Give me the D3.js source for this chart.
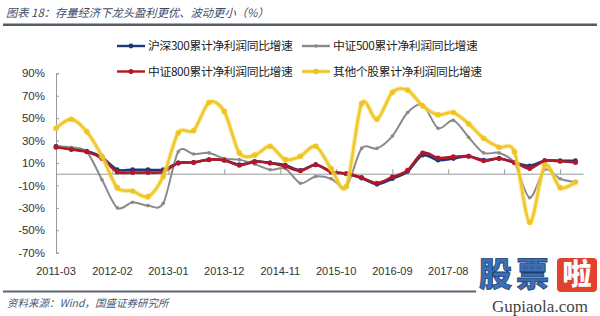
<!DOCTYPE html>
<html><head><meta charset="utf-8">
<script src="https://cdn.jsdelivr.net/npm/d3@7/dist/d3.min.js"></script>
<style>
html,body{margin:0;padding:0;background:#fff;}
svg{display:block;}
</style></head>
<body>
<svg id="chart" width="600" height="316"></svg>
<script>
// ---- data ----
const periods = ["2011-03","2011-06","2011-09","2011-12","2012-03","2012-06","2012-09","2012-12",
  "2013-03","2013-06","2013-09","2013-12","2014-03","2014-06","2014-09","2014-12",
  "2015-03","2015-06","2015-09","2015-12","2016-03","2016-06","2016-09","2016-12",
  "2017-03","2017-06","2017-09","2017-12","2018-03","2018-06","2018-09","2018-12",
  "2019-03","2019-06","2019-09"];
const hs300 = [25,22.5,20.5,15,4,4,4,4,10,10.5,13,12.5,8.5,11.5,10,8,3.5,8.5,2.5,0.5,
  -3.5,-9,-4,2.5,17,12.5,14,16,12.5,14,10.5,7.5,12,12,12];
const zz500 = [25,24,20,-5,-30,-25,-28,-26,20,18,19,14,13,9,4,5,-8,-2,-4,-11,
  23,23,34,55,62,41,48,33,19,19,10,-21,4,-4,-7];
const zz800 = [24,22,20,14,2,1.5,1.5,2,10,10.5,13,12.5,8,11,10,7,3,8.5,2,0.5,
  -3,-8,-2.5,3.5,19,14.5,15.5,16,12,14,10.5,5,12,11.5,10.5];
const others = [41,49,38,16,-12,-15,-20,-2,37,39,64,56,19,17,25,13,16,25,5,-11,
  63,49,73,75,61,53,55,45,32,24,20,-43,8,-12,-7];
const seriesNames = ["沪深300累计净利润同比增速","中证500累计净利润同比增速","中证800累计净利润同比增速","其他个股累计净利润同比增速"];
// tick positions (every 11 months); the last two labels are hidden under the watermark in the reference
const xTickDates = ["2011-03","2012-02","2013-01","2013-12","2014-11","2015-10","2016-09","2017-08","2018-07","2019-06"];
const xTickLabels = ["2011-03","2012-02","2013-01","2013-12","2014-11","2015-10","2016-09","2017-08"];
const yTicks = [90,70,50,30,10,-10,-30,-50,-70];
const titleText = "图表 18：存量经济下龙头盈利更优、波动更小（%）";
const sourceText = "资料来源：Wind，国盛证券研究所";

// ---- layout ----
const svg = d3.select("#chart");
const parse = d3.utcParse("%Y-%m");
const plot = {left:56, right:575.5, top:73.3, bottom:252.7};
const x = d3.scaleUtc().domain([parse(periods[0]), parse(periods[periods.length-1])]).range([plot.left, plot.right]);
const y = d3.scaleLinear().domain([-70,90]).range([plot.bottom, plot.top]);

// title
svg.append("text").attr("x",6).attr("y",17).text(titleText)
  .attr("font-family","'Noto Sans CJK SC', sans-serif").attr("font-size",11.3)
  .attr("font-style","italic").attr("fill","#3d4d6b");
svg.append("line").attr("x1",3).attr("x2",597).attr("y1",24.8).attr("y2",24.8)
  .attr("stroke","#545b66").attr("stroke-width",2.6);

// y axis
const yAxis = svg.append("g").attr("transform",`translate(${plot.left},0)`)
  .call(d3.axisLeft(y).tickValues(yTicks).tickSize(-3).tickPadding(11).tickFormat(d=>d+"%"));
yAxis.select(".domain").attr("stroke","#9a9a9a");
yAxis.selectAll(".tick line").attr("stroke","#9a9a9a");
yAxis.selectAll("text").attr("font-family","'Liberation Sans', Arial, sans-serif")
  .attr("font-size",11.5).attr("fill","#333");

// zero axis with ticks
const xAxis = svg.append("g").attr("transform",`translate(0,${y(0)})`)
  .call(d3.axisBottom(x).tickValues(xTickDates.map(parse)).tickSize(-5).tickFormat(""));
xAxis.select(".domain").attr("stroke","#9a9a9a").attr("d",`M${plot.left},0H${plot.right+8}`);
xAxis.selectAll(".tick line").attr("stroke","#9a9a9a");

// x labels
svg.append("g").selectAll("text").data(xTickLabels).join("text")
  .attr("x",d=>x(parse(d))).attr("y",275).attr("text-anchor","middle")
  .attr("font-family","'Liberation Sans', Arial, sans-serif").attr("font-size",11)
  .attr("fill","#333").text(d=>d);

// series
const series = [
  {name:seriesNames[0], values:hs300, color:"#1d3778", width:2.6, r:2.4},
  {name:seriesNames[1], values:zz500, color:"#8a8a8a", width:2, r:1.8},
  {name:seriesNames[2], values:zz800, color:"#b01828", width:2.6, r:2.5},
  {name:seriesNames[3], values:others, color:"#efc31f", width:2.8, r:2.8, halo:true}
];
const line = d3.line().x((d,i)=>x(parse(periods[i]))).y(d=>y(d)).curve(d3.curveCardinal.tension(0.1));
series.forEach(s=>{
  const g = svg.append("g");
  if(s.halo){
    g.append("path").attr("d",line(s.values)).attr("fill","none")
      .attr("stroke","#f6e27e").attr("stroke-width",5).attr("stroke-opacity",0.55);
  }
  g.append("path").attr("d",line(s.values)).attr("fill","none")
    .attr("stroke",s.color).attr("stroke-width",s.width).attr("stroke-opacity",s.halo?0.9:1)
    .attr("stroke-linejoin","round");
  g.selectAll("circle").data(s.values).join("circle")
    .attr("cx",(d,i)=>x(parse(periods[i]))).attr("cy",d=>y(d)).attr("r",s.r)
    .attr("fill",s.color).attr("fill-opacity",s.halo?0.9:1);
});

// legend
const legendPos = [[117,46],[302,46],[117,71.5],[302,71.5]];
series.forEach((s,i)=>{
  const [lx,ly] = legendPos[i];
  const g = svg.append("g");
  if(s.halo) g.append("line").attr("x1",lx).attr("x2",lx+28).attr("y1",ly).attr("y2",ly)
    .attr("stroke","#f6e27e").attr("stroke-width",4.5).attr("stroke-opacity",0.55);
  g.append("line").attr("x1",lx).attr("x2",lx+28).attr("y1",ly).attr("y2",ly)
    .attr("stroke",s.color).attr("stroke-width",2.4);
  g.append("circle").attr("cx",lx+14).attr("cy",ly).attr("r",s.r).attr("fill",s.color);
  g.append("text").attr("x",lx+31).attr("y",ly+4.3).text(s.name)
    .attr("font-family","'Noto Sans CJK SC', sans-serif").attr("font-size",11.8)
    .attr("letter-spacing",-0.35).attr("fill","#222");
});

// footer
svg.append("line").attr("x1",3).attr("x2",478).attr("y1",291.5).attr("y2",291.5)
  .attr("stroke","#5d6470").attr("stroke-width",1.8);
svg.append("text").attr("x",7).attr("y",307).text(sourceText)
  .attr("font-family","'Noto Sans CJK SC', sans-serif").attr("font-size",10.5)
  .attr("font-style","italic").attr("fill","#4a5878");

// watermark
const wm = svg.append("g");
wm.append("rect").attr("x",476).attr("y",256).attr("width",124).attr("height",60).attr("fill","#fff").attr("fill-opacity",0.92);
wm.append("text").attr("x",479).attr("y",286).text("股票")
  .attr("font-family","'Noto Sans CJK SC', sans-serif").attr("font-weight",900)
  .attr("font-size",33).attr("fill","#3a6fb5").attr("stroke","#1e3f73").attr("stroke-width",0.8)
  .attr("letter-spacing",4);
wm.append("rect").attr("x",557).attr("y",258).attr("width",40).attr("height",34).attr("rx",4)
  .attr("fill","#e2412e");
wm.append("text").attr("x",577).attr("y",285).attr("text-anchor","middle").text("啦")
  .attr("font-family","'Noto Sans CJK SC', sans-serif").attr("font-weight",900)
  .attr("font-size",29).attr("fill","#fff");
wm.append("text").attr("x",540).attr("y",312).attr("text-anchor","middle").text("Gupiaola.com")
  .attr("font-family","'Liberation Serif', 'DejaVu Serif', serif").attr("font-size",17)
  .attr("fill","#444");
</script>
</body></html>
